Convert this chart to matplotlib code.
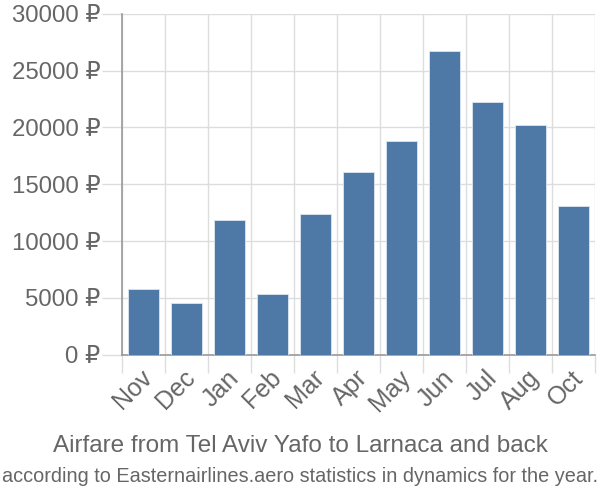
import matplotlib
matplotlib.use("Agg")
import matplotlib.pyplot as plt
import matplotlib.transforms as mtransforms
import numpy as np

months = ["Nov", "Dec", "Jan", "Feb", "Mar", "Apr", "May", "Jun", "Jul", "Aug", "Oct"]
prices = [5750, 4520, 11820, 5360, 12380, 16100, 18800, 26730, 22260, 20210, 13050]
yticks = [0, 5000, 10000, 15000, 20000, 25000, 30000]

title1 = "Airfare from Tel Aviv Yafo to Larnaca and back"
title2 = "according to Easternairlines.aero statistics in dynamics for the year."

plt.rcParams['font.family'] = ['Liberation Sans', 'DejaVu Sans']

fig = plt.figure(figsize=(6, 5), dpi=100)
ax = fig.add_axes([0.203, 0.291, 0.789, 0.681])

x = np.arange(len(months))
ax.bar(x, prices, width=0.72, color="#4e79a7", edgecolor="#dce6f0", linewidth=0.6, zorder=3)

ax.set_xlim(-0.5, len(months) - 0.5)
ax.set_ylim(0, 30000)

# grid on category boundaries
ax.set_xticks(np.arange(len(months) + 1) - 0.5, minor=True)
ax.set_xticks(x)
ax.set_xticklabels(months, rotation=45, ha="right", rotation_mode="anchor",
                   fontsize=18, color="#666666")
ax.tick_params(axis="x", which="major", length=0, pad=8)
ax.tick_params(axis="x", which="minor", length=13, color="#dddddd", width=1)
ax.grid(True, which="minor", axis="x", color="#dddddd", linewidth=1, zorder=0)
shift = mtransforms.ScaledTranslation(-3 / 100, 0, fig.dpi_scale_trans)
for lab in ax.get_xticklabels():
    lab.set_transform(lab.get_transform() + shift)

ax.set_yticks(yticks)
ax.set_yticklabels([f"{v} ₽" for v in yticks], fontsize=17.3, color="#666666")
ax.tick_params(axis="y", length=14.5, color="#dddddd", width=1, pad=1)
ax.grid(True, which="major", axis="y", color="#dddddd", linewidth=1, zorder=0)

for s in ["top", "right"]:
    ax.spines[s].set_visible(False)
ax.spines["left"].set_color("#999999")
ax.spines["bottom"].set_color("#999999")
ax.spines["left"].set_linewidth(1.2)
ax.spines["bottom"].set_linewidth(1.2)

fig.text(0.5, 0.108, title1, ha="center", va="center", fontsize=17.5, color="#666666")
fig.text(0.5, 0.048, title2, ha="center", va="center", fontsize=14.3, color="#666666")

fig.savefig("out.png", dpi=100)
